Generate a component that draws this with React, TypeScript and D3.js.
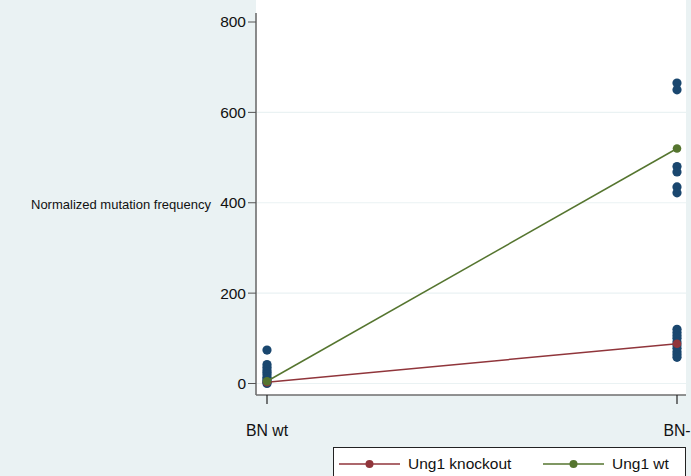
import React from "react";
import * as d3 from "d3";

const categories = ["BN wt", "BN-"];
const yTicks = [0, 200, 400, 600, 800];
const bnWtPoints = [74, 42, 36, 30, 25, 20, 14, 10, 6, 3, 0];
const bnMinusPoints = [665, 650, 480, 468, 435, 422, 120, 113, 106, 100, 92, 85, 78, 70, 64, 58];
const knockoutMeans = [3, 88];
const wtMeans = [5, 520];
const seriesNames = ["Ung1 knockout", "Ung1 wt"];

const W = 691;
const H = 476;
const BG = "#eaf2f3";
const NAVY = "#1a476f";
const RED = "#90353b";
const GREEN = "#55752f";

export default function App() {
  const x = d3.scalePoint<string>().domain(categories).range([267, 677]);
  const y = d3.scaleLinear().domain([0, 800]).range([383.5, 22]);
  const plotL = 256, plotR = 686, plotT = 0, plotB = 395;
  const line = d3.line<number>().x((_, i) => x(categories[i])!).y((d) => y(d));
  const font = "Liberation Sans, Arial, sans-serif";

  return (
    <svg width={W} height={H} style={{ position: "absolute", left: 0, top: 0 }} fontFamily={font}>
      <rect x={0} y={0} width={W} height={H} fill={BG} />
      <rect x={plotL} y={plotT} width={plotR - plotL} height={plotB - plotT} fill="#ffffff" />
      {yTicks.slice(0, 4).map((t) => (
        <line key={"g" + t} x1={plotL} x2={plotR} y1={y(t)} y2={y(t)} stroke={BG} strokeWidth={1.2} />
      ))}
      {/* points */}
      {bnWtPoints.map((v, i) => (
        <circle key={"a" + i} cx={x(categories[0])} cy={y(v)} r={4.6} fill={NAVY} />
      ))}
      {bnMinusPoints.map((v, i) => (
        <circle key={"b" + i} cx={x(categories[1])} cy={y(v)} r={4.6} fill={NAVY} />
      ))}
      {/* mean lines */}
      <path d={line(knockoutMeans)!} fill="none" stroke={RED} strokeWidth={1.5} />
      <path d={line(wtMeans)!} fill="none" stroke={GREEN} strokeWidth={1.5} />
      {knockoutMeans.map((v, i) => (
        <circle key={"r" + i} cx={x(categories[i])} cy={y(v)} r={4.3} fill={RED} />
      ))}
      {wtMeans.map((v, i) => (
        <circle key={"w" + i} cx={x(categories[i])} cy={y(v)} r={4.3} fill={GREEN} />
      ))}
      {/* y axis */}
      <line x1={plotL} x2={plotL} y1={13} y2={plotB} stroke="#6e6e6e" strokeWidth={1.6} />
      {yTicks.map((t) => (
        <g key={"t" + t}>
          <line x1={plotL - 8} x2={plotL} y1={y(t)} y2={y(t)} stroke="#555" strokeWidth={1} />
          <text x={plotL - 10} y={y(t)} dy="0.35em" textAnchor="end" fontSize={15.5} fill="#111">
            {t}
          </text>
        </g>
      ))}
      <text x={31} y={204} dy="0.35em" fontSize={13} fill="#111">
        Normalized mutation frequency
      </text>
      {/* x axis */}
      <line x1={plotL} x2={plotR} y1={plotB} y2={plotB} stroke="#6e6e6e" strokeWidth={1.6} />
      {categories.map((c) => (
        <g key={"x" + c}>
          <line x1={x(c)} x2={x(c)} y1={plotB} y2={plotB + 9} stroke="#222" strokeWidth={1.2} />
          <text x={x(c)} y={430} dy="0.35em" textAnchor="middle" fontSize={15.8} fill="#111">
            {c}
          </text>
        </g>
      ))}
      {/* legend */}
      <rect x={333.5} y={447.5} width={352} height={40} fill="#ffffff" stroke="#222" strokeWidth={1} />
      {[RED, GREEN].map((col, i) => {
        const lx = 339 + i * 204;
        return (
          <g key={"l" + i}>
            <line x1={lx} x2={lx + 61} y1={464} y2={464} stroke={col} strokeWidth={1.5} />
            <circle cx={lx + 30.5} cy={464} r={4} fill={col} />
            <text x={lx + 69} y={464} dy="0.35em" fontSize={15.5} fill="#111">
              {seriesNames[i]}
            </text>
          </g>
        );
      })}
    </svg>
  );
}
